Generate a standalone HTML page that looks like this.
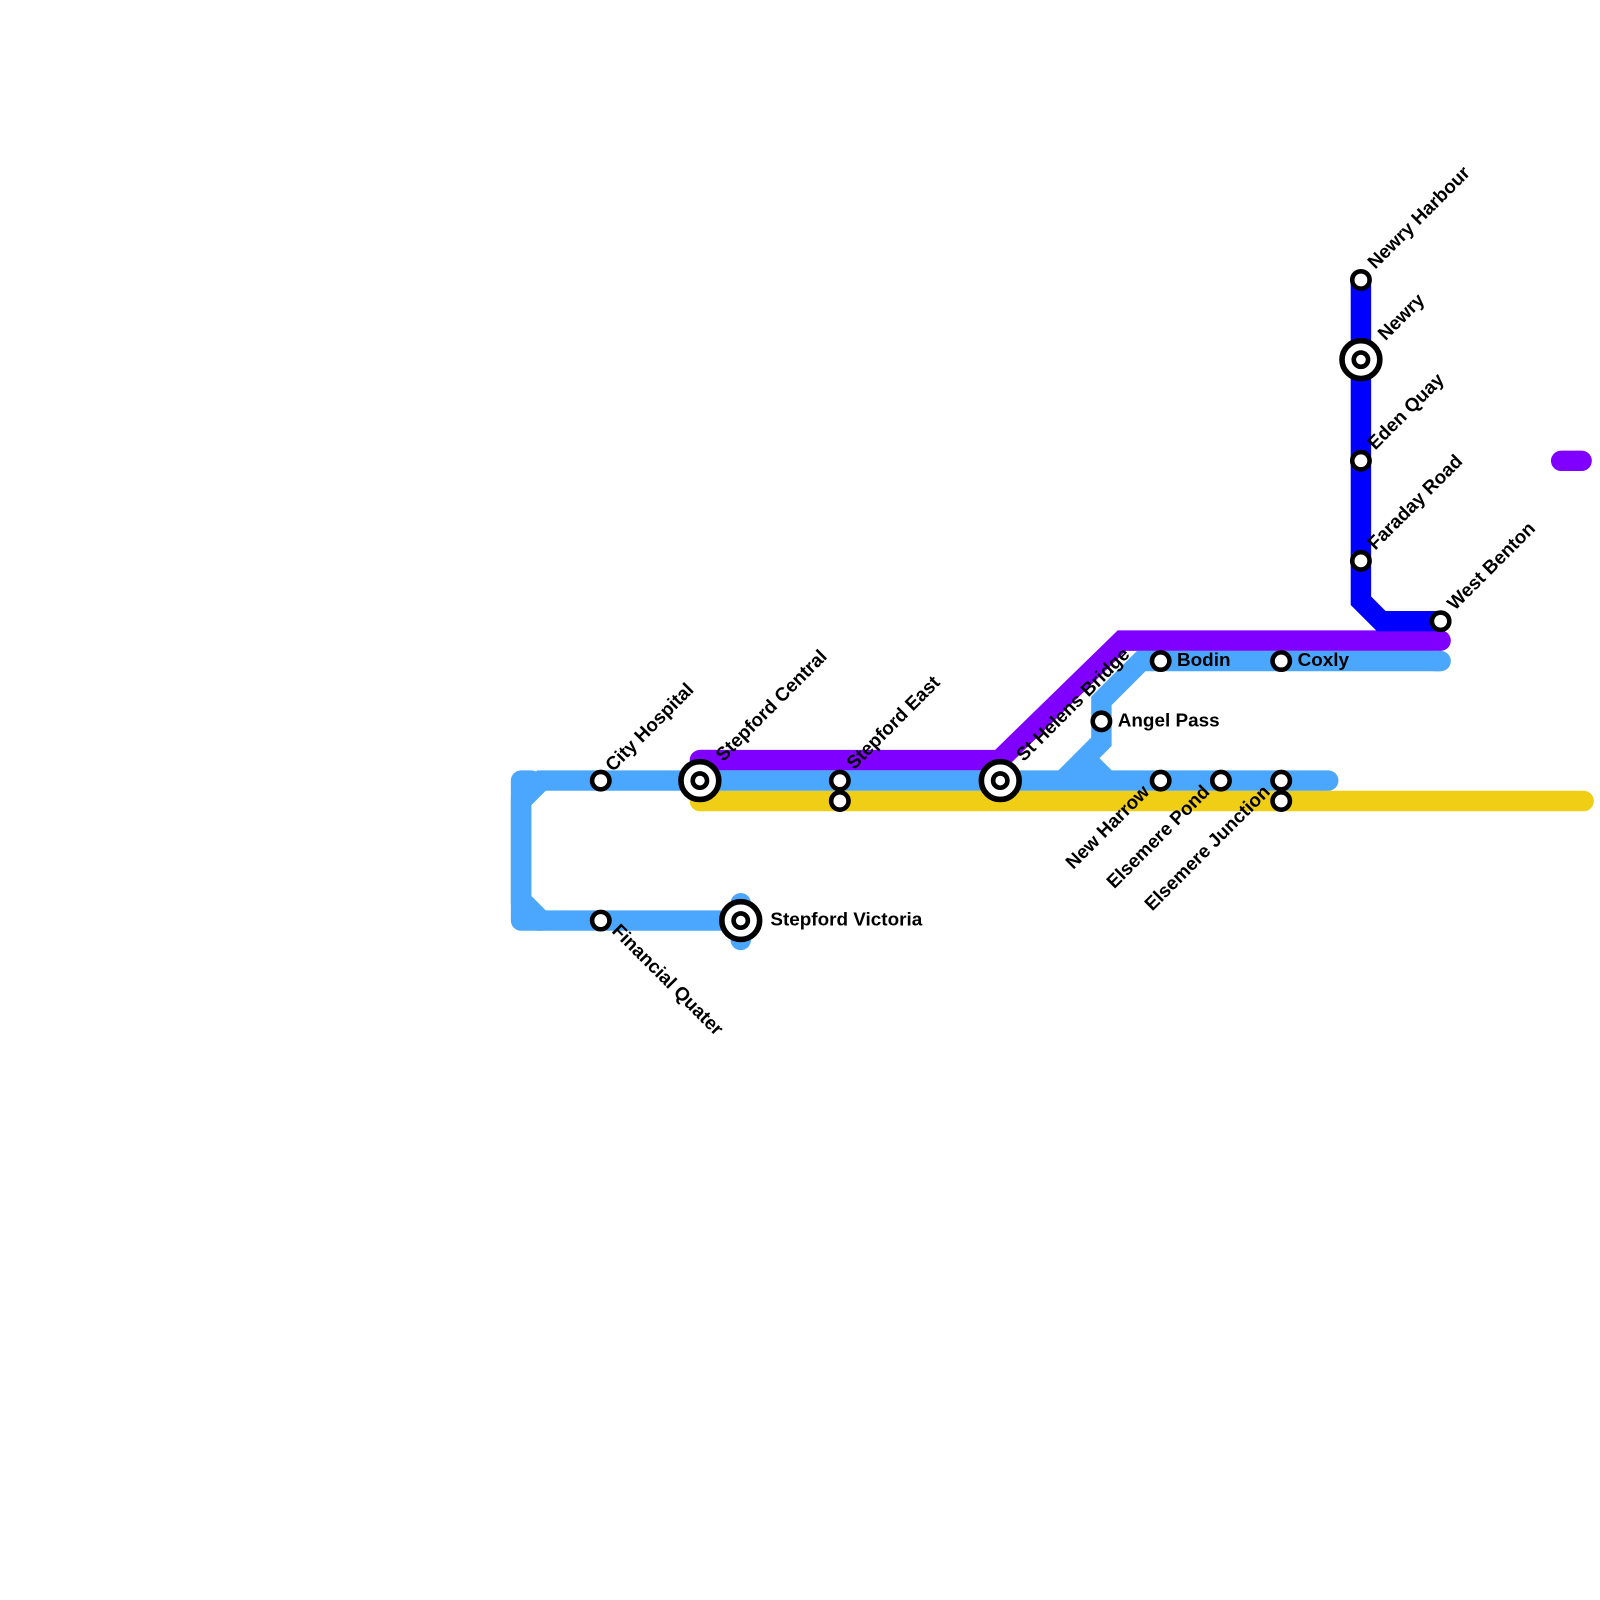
<!DOCTYPE html>
<html><head><meta charset="utf-8"><style>html,body{margin:0;padding:0;background:#fff}svg{display:block}
text{font-family:"Liberation Sans",sans-serif;font-weight:bold;font-size:18.5px;fill:#000}</style></head>
<body>
<svg width="1600" height="1600" viewBox="0 0 1566 1566">
<g fill="none" stroke-width="20" stroke-linejoin="round" stroke-linecap="round">
<path d="M685,744 L978,744 L1098,627 L1410,627" stroke="#7f00ff" stroke-linecap="butt" stroke-linejoin="miter"/>
<path d="M685,744 L700,744" stroke="#7f00ff"/>
<path d="M1410,627 L1410,627" stroke="#7f00ff"/>
<path d="M1528,451 L1548,451" stroke="#7f00ff"/>
<path d="M685,784 L1550,784" stroke="#f0ce15"/>
<path d="M725,884 L725,920" stroke="#4ba7fe"/>
<path d="M720,901 L530,901 L510,881 L510,784 L530,764 L1295,764" stroke="#4ba7fe" stroke-linejoin="miter" stroke-linecap="butt"/>
<path d="M1295,764 L1300,764" stroke="#4ba7fe"/>
<path d="M520,764 L510,764 L510,901 L530,901" stroke="#4ba7fe"/>
<path d="M1040,764 L1078,726 L1078,686 L1117,647 L1410,647" stroke="#4ba7fe" stroke-linejoin="miter" stroke-linecap="butt"/>
<path d="M1405,647 L1410,647" stroke="#4ba7fe"/>
<path d="M1066,746 L1082,762" stroke="#4ba7fe" stroke-linecap="butt"/>
<path d="M1332,274 L1332,588 L1352,608 L1410,608" stroke="#0000ff" stroke-linejoin="miter"/>
</g>
<g fill="#fff" stroke="#000" stroke-width="4.5">
<circle cx="588" cy="764" r="8.5"/>
<circle cx="822" cy="764" r="8.5"/><circle cx="822" cy="784" r="8.5"/>
<circle cx="1078" cy="706" r="8.5"/>
<circle cx="1136" cy="647" r="8.5"/><circle cx="1254" cy="647" r="8.5"/>
<circle cx="1136" cy="764" r="8.5"/><circle cx="1195" cy="764" r="8.5"/>
<circle cx="1254" cy="764" r="8.5"/><circle cx="1254" cy="784" r="8.5"/>
<circle cx="588" cy="901" r="8.5"/>
<circle cx="1332" cy="274" r="8.5"/><circle cx="1332" cy="451" r="8.5"/>
<circle cx="1332" cy="549" r="8.5"/><circle cx="1410" cy="608" r="8.5"/>
</g>
<g fill="#fff" stroke="#000">
<circle cx="685" cy="764" r="18.5" stroke-width="5.5"/><circle cx="685" cy="764" r="7" stroke-width="4.5"/>
<circle cx="979" cy="764" r="18.5" stroke-width="5.5"/><circle cx="979" cy="764" r="7" stroke-width="4.5"/>
<circle cx="725" cy="901" r="18.5" stroke-width="5.5"/><circle cx="725" cy="901" r="7" stroke-width="4.5"/>
<circle cx="1332" cy="352" r="18.5" stroke-width="5.5"/><circle cx="1332" cy="352" r="7" stroke-width="4.5"/>
</g>
<text transform="translate(600,756) rotate(-45)">City Hospital</text>
<text transform="translate(708,746) rotate(-45)">Stepford Central</text>
<text transform="translate(836,754) rotate(-45)">Stepford East</text>
<text transform="translate(1002,746) rotate(-45)">St Helens Bridge</text>
<text transform="translate(1346,264) rotate(-45)">Newry Harbour</text>
<text transform="translate(1356,334) rotate(-45)">Newry</text>
<text transform="translate(1346,441) rotate(-45)">Eden Quay</text>
<text transform="translate(1346,539) rotate(-45)">Faraday Road</text>
<text transform="translate(1424,598) rotate(-45)">West Benton</text>
<text transform="translate(1126,776) rotate(-45)" text-anchor="end">New Harrow</text>
<text transform="translate(1185,776) rotate(-45)" text-anchor="end">Elsemere Pond</text>
<text transform="translate(1244,776) rotate(-45)" text-anchor="end">Elsemere Junction</text>
<text transform="translate(598,912) rotate(45)">Financial Quater</text>
<text x="1094" y="711">Angel Pass</text>
<text x="1152" y="652">Bodin</text>
<text x="1270" y="652">Coxly</text>
<text x="754" y="906">Stepford Victoria</text>
</svg>
</body></html>
